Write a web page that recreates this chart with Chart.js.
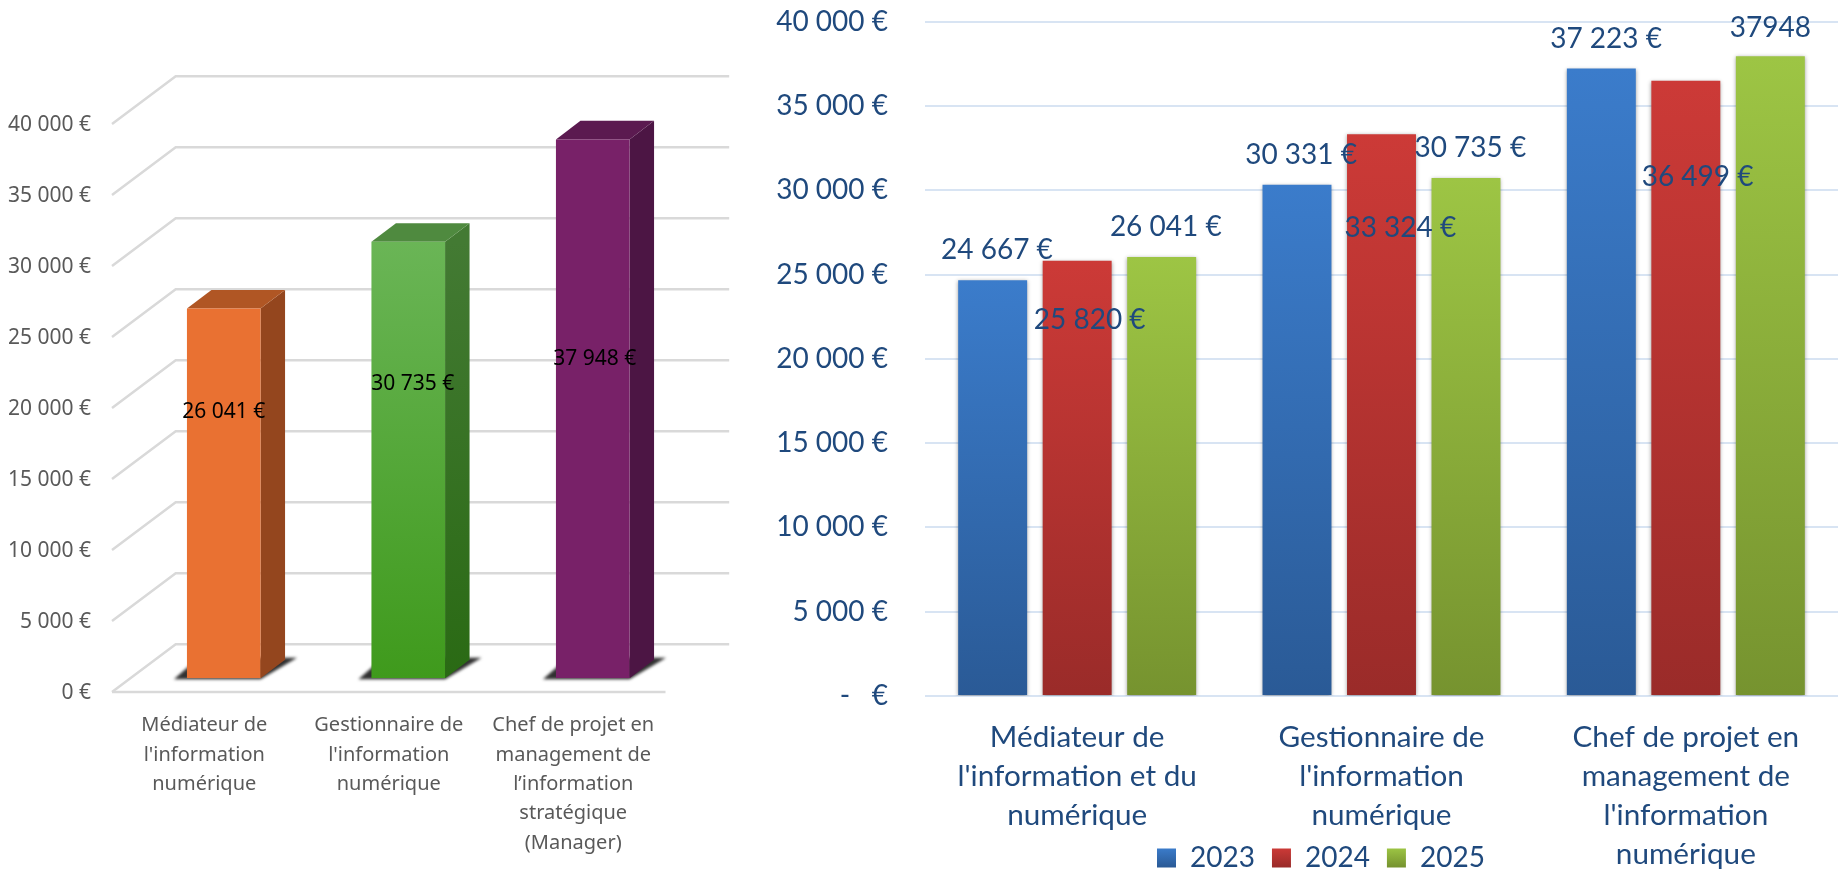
<!DOCTYPE html>
<html lang="fr">
<head>
<meta charset="utf-8">
<title>Salaires</title>
<script src="https://cdn.jsdelivr.net/npm/chart.js@4"></script>
<style>
html,body{margin:0;padding:0;background:#fff;overflow:hidden}
canvas{position:absolute;top:0}
#left{left:0}
#right{left:740px}
</style>
</head>
<body>
<canvas id="left" width="740" height="869"></canvas>
<canvas id="right" width="1099" height="869"></canvas>
<script>
// ---------- data, left chart ----------
const leftCategories = [
  ["Médiateur de", "l'information", "numérique"],
  ["Gestionnaire de", "l'information", "numérique"],
  ["Chef de projet en", "management de", "l’information", "stratégique", "(Manager)"]
];
const leftValues = [26041, 30735, 37948];
const leftValueLabels = ["26 041 €", "30 735 €", "37 948 €"];
const leftTickLabels = ["0 €", "5 000 €", "10 000 €", "15 000 €", "20 000 €", "25 000 €", "30 000 €", "35 000 €", "40 000 €"];

// ---------- data, right chart ----------
const rightCategories = [
  ["Médiateur de", "l'information et du", "numérique"],
  ["Gestionnaire de", "l'information", "numérique"],
  ["Chef de projet en", "management de", "l'information", "numérique"]
];
const seriesNames = ["2023", "2024", "2025"];
const values2023 = [24667, 30331, 37223];
const values2024 = [25820, 33324, 36499];
const values2025 = [26041, 30735, 37948];
const labels2023 = ["24 667 €", "30 331 €", "37 223 €"];
const labels2024 = ["25 820 €", "33 324 €", "36 499 €"];
const labels2025 = ["26 041 €", "30 735 €", "37948"];
const rightTickLabels = ["-   €", "5 000 €", "10 000 €", "15 000 €", "20 000 €", "25 000 €", "30 000 €", "35 000 €", "40 000 €"];

// ---------- styles ----------
const leftFont = '"Noto Sans", sans-serif';
const rightFont = 'Lato, sans-serif';
const leftText = '#595959';
const rightText = '#1F497D';
const leftFaces = [
  {front:['#E97132','#E97132'], side:['#94461E','#94461E'], top:'#B05624'},
  {front:['#6AB556','#3F9A1C'], side:['#437A33','#2A6A14'], top:'#4F8A3F'},
  {front:['#782168','#782168'], side:['#4C1544','#4C1544'], top:'#5B1A50'}
];
const rightColors = [['#3B7CCB','#2A5A96'],['#CC3A37','#9A2B29'],['#9DC544','#76932F']];
// offsets of a value label from the top-centre of its bar
const leftLabelShift = [[0,103],[4.5,142],[2,220]];
const rightLabelShift = [
  [[4.3,-29.8],[4.1,-29.4],[4.7,-29.4]],
  [[12.5,59.6],[18.8,94],[11.7,96.4]],
  [[4.1,-29.7],[4.3,-29.6],[0,-28.5]]
];
// 3-D look of the left chart
const room = {dx:63.7, dy:47.7};
const barDepth = {dx:24.5, dy:18.6};
const barShift = {x:19.5, y:-13.7};

function verticalGradient(ctx, y0, y1, stops){
  if (!Number.isFinite(y0) || !Number.isFinite(y1)) return stops[0];
  const g = ctx.createLinearGradient(0, y0, 0, y1);
  g.addColorStop(0, stops[0]); g.addColorStop(1, stops[1]);
  return g;
}

const leftDepthPlugin = {
  id:'leftDepth',
  beforeDatasetsDraw(chart){
    const {ctx, scales:{y}, chartArea:a} = chart;
    ctx.save();
    ctx.strokeStyle = '#D9D9D9';
    ctx.lineWidth = 2.5;
    y.ticks.forEach(t=>{
      const py = y.getPixelForValue(t.value);
      ctx.beginPath();
      ctx.moveTo(a.left, py);
      ctx.lineTo(a.left + room.dx, py - room.dy);
      ctx.lineTo(a.right + room.dx, py - room.dy);
      ctx.stroke();
    });
    const y0 = y.getPixelForValue(0);
    ctx.beginPath(); ctx.moveTo(a.left, y0); ctx.lineTo(a.right, y0); ctx.stroke();
    ctx.restore();

    ctx.save();
    ctx.translate(barShift.x, barShift.y);
    chart.getDatasetMeta(0).data.forEach((el,i)=>{
      const l = el.x - el.width/2, r = el.x + el.width/2, t = el.y, b = el.base;
      const f = leftFaces[i];
      // floor shadow
      ctx.save();
      ctx.filter = 'blur(1.5px)';
      ctx.fillStyle = 'rgba(30,30,30,.92)';
      ctx.beginPath();
      ctx.moveTo(l-13, b+1); ctx.lineTo(r, b+1);
      ctx.lineTo(r+barDepth.dx+12, b-barDepth.dy-2);
      ctx.lineTo(l+barDepth.dx-13, b-barDepth.dy-2); ctx.closePath(); ctx.fill();
      ctx.restore();
      // side face
      ctx.fillStyle = verticalGradient(ctx, t, b, f.side);
      ctx.beginPath();
      ctx.moveTo(r,t); ctx.lineTo(r+barDepth.dx,t-barDepth.dy);
      ctx.lineTo(r+barDepth.dx,b-barDepth.dy); ctx.lineTo(r,b);
      ctx.closePath(); ctx.fill();
      // top face
      ctx.fillStyle = f.top;
      ctx.beginPath();
      ctx.moveTo(l,t); ctx.lineTo(l+barDepth.dx,t-barDepth.dy);
      ctx.lineTo(r+barDepth.dx,t-barDepth.dy); ctx.lineTo(r,t);
      ctx.closePath(); ctx.fill();
    });
  },
  afterDatasetsDraw(chart){
    const ctx = chart.ctx;
    ctx.restore();
    ctx.save();
    ctx.font = '21px ' + leftFont;
    ctx.fillStyle = '#000';
    ctx.textAlign = 'center';
    ctx.textBaseline = 'middle';
    chart.getDatasetMeta(0).data.forEach((el,i)=>{
      ctx.fillText(leftValueLabels[i],
        el.x + barShift.x + leftLabelShift[i][0],
        el.y + barShift.y + leftLabelShift[i][1]);
    });
    ctx.restore();
  }
};

new Chart(document.getElementById('left'), {
  type:'bar',
  data:{
    labels:leftCategories,
    datasets:[{
      data:leftValues,
      barPercentage:0.399,
      categoryPercentage:1,
      backgroundColor(c){
        if (c.raw === undefined) return leftFaces[0].front[0];
        const y = c.chart.scales.y;
        return verticalGradient(c.chart.ctx, y.getPixelForValue(c.raw), y.getPixelForValue(0), leftFaces[c.dataIndex].front);
      }
    }]
  },
  options:{
    responsive:false, animation:false,
    layout:{padding:{top:124, right:74.5, left:0, bottom:0}},
    plugins:{legend:{display:false}, tooltip:{enabled:false}},
    scales:{
      x:{
        afterFit(s){ s.height = 177; },
        grid:{display:false}, border:{display:false},
        ticks:{color:leftText, font:{family:leftFont, size:20, lineHeight:1.465}, maxRotation:0, autoSkip:false, padding:11}
      },
      y:{
        min:0, max:40000,
        afterFit(s){ s.width = 112; },
        grid:{display:false, drawTicks:false}, border:{display:false},
        ticks:{
          stepSize:5000, color:leftText, padding:21, labelOffset:1.5,
          font:{family:leftFont, size:21},
          callback(v){ return leftTickLabels[v/5000]; }
        }
      }
    }
  },
  plugins:[leftDepthPlugin]
});

const rightPlugin = {
  id:'rightExtras',
  afterLayout(chart){
    const lg = chart.legend;
    const w = lg.right - lg.left;
    lg.left = 400; lg.right = lg.left + w;
    lg.top = 827; lg.bottom = lg.top + lg.height;
    // category labels run beside the legend, down to the page bottom
    chart.scales.x.bottom = chart.height;
  },
  beforeDatasetsDraw(chart){
    const ctx = chart.ctx;
    ctx.save();
    ctx.shadowColor = 'rgba(0,0,0,.38)';
    ctx.shadowBlur = 4;
    ctx.shadowOffsetY = 1;
  },
  afterDatasetsDraw(chart){
    const ctx = chart.ctx;
    ctx.restore();
    ctx.save();
    ctx.font = '28px ' + rightFont;
    ctx.fillStyle = rightText;
    ctx.textAlign = 'center';
    ctx.textBaseline = 'middle';
    const texts = [labels2023, labels2024, labels2025];
    chart.data.datasets.forEach((d,s)=>{
      chart.getDatasetMeta(s).data.forEach((el,i)=>{
        ctx.fillText(texts[s][i], el.x + rightLabelShift[s][i][0], el.y + rightLabelShift[s][i][1]);
      });
    });
    ctx.restore();
  }
};

function rightDataset(name, values, idx){
  return {
    label:name, data:values,
    barPercentage:0.816, categoryPercentage:0.833,
    backgroundColor(c){
      if (c.raw === undefined) return rightColors[idx][0];
      const y = c.chart.scales.y;
      return verticalGradient(c.chart.ctx, y.getPixelForValue(c.raw), y.getPixelForValue(0), rightColors[idx]);
    }
  };
}

new Chart(document.getElementById('right'), {
  type:'bar',
  data:{
    labels:rightCategories,
    datasets:[
      rightDataset(seriesNames[0], values2023, 0),
      rightDataset(seriesNames[1], values2024, 1),
      rightDataset(seriesNames[2], values2025, 2)
    ]
  },
  options:{
    responsive:false, animation:false,
    layout:{padding:{top:21.7, right:1, left:0, bottom:0}},
    plugins:{
      tooltip:{enabled:false},
      legend:{
        position:'bottom', align:'start',
        labels:{
          boxWidth:19, boxHeight:19, padding:17, color:rightText,
          font:{family:rightFont, size:28},
          generateLabels(chart){
            return chart.data.datasets.map((d,i)=>({
              text:d.label, datasetIndex:i, lineWidth:0, strokeStyle:'transparent',
              fontColor:rightText,
              fillStyle:verticalGradient(chart.ctx, 848, 867, rightColors[i])
            }));
          }
        }
      }
    },
    scales:{
      x:{
        afterFit(s){ s.height = 118; },
        grid:{display:false}, border:{display:false},
        ticks:{color:rightText, font:{family:rightFont, size:29.7, lineHeight:1.31}, maxRotation:0, autoSkip:false, padding:14}
      },
      y:{
        min:0, max:40000,
        afterFit(s){ s.width = 185; },
        grid:{color:'#D8E4F3', lineWidth:2, drawTicks:true, tickLength:37, tickColor:'transparent'}, border:{display:false},
        ticks:{
          stepSize:5000, color:rightText, padding:0,
          font:{family:rightFont, size:28},
          callback(v){ return rightTickLabels[v/5000]; }
        }
      }
    }
  },
  plugins:[rightPlugin]
});
</script>
</body>
</html>
